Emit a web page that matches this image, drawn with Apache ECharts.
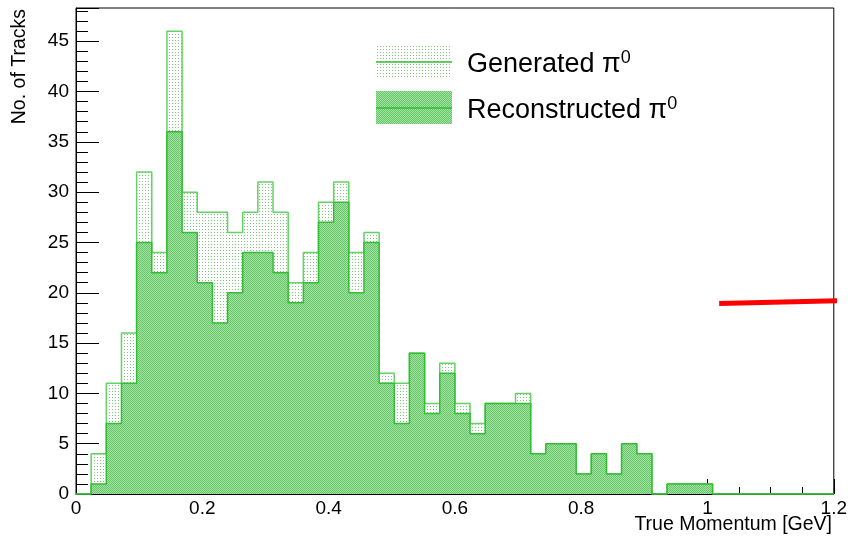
<!DOCTYPE html>
<html>
<head>
<meta charset="utf-8">
<title>True momentum of pi0 tracks</title>
<script src="https://cdn.jsdelivr.net/npm/echarts@6/dist/echarts.min.js"></script>
<style>
  html, body { margin: 0; padding: 0; background: #ffffff; }
  #chart { width: 850px; height: 538px; }
</style>
</head>
<body>
<div id="chart"></div>
<script>
// Histogram binning: 50 bins from 0 to 1.2 GeV
const xMin = 0;
const xMax = 1.2;
const nBins = 50;

// Counts per bin
const generatedCounts = [
  0, 4, 11, 16, 32, 24, 46, 30, 28, 28,
  26, 28, 31, 28, 21, 24, 29, 31, 24, 26,
  12, 11, 14, 9, 13, 9, 7, 9, 9, 10,
  4, 5, 5, 2, 4, 2, 5, 4, 0, 1,
  1, 1, 0, 0, 0, 0, 0, 0, 0, 0
];
const reconstructedCounts = [
  0, 1, 7, 11, 25, 22, 36, 26, 21, 17,
  20, 24, 24, 22, 19, 21, 27, 29, 20, 25,
  11, 7, 14, 8, 12, 8, 6, 9, 9, 9,
  4, 5, 5, 2, 4, 2, 5, 4, 0, 1,
  1, 1, 0, 0, 0, 0, 0, 0, 0, 0
];

// Red marker line (data coordinates)
const redLineX = [1.0185, 1.235];
const redLineY = [18.93, 19.25];

// Axis tick labels
const xTickLabels = ['0', '0.2', '0.4', '0.6', '0.8', '1', '1.2'];
const yTickLabels = ['0', '5', '10', '15', '20', '25', '30', '35', '40', '45'];

const yMax = 48.3;
const binWidth = (xMax - xMin) / nBins;

// Fill patterns drawn on tiny canvases
function makeDotPattern() {
  const c = document.createElement('canvas');
  c.width = 3; c.height = 3;
  const g = c.getContext('2d');
  g.fillStyle = '#ffffff'; g.fillRect(0, 0, 3, 3);
  g.fillStyle = 'rgb(125,200,125)'; g.fillRect(1, 1, 1, 1);
  return c;
}
function makeCheckerPattern() {
  const c = document.createElement('canvas');
  c.width = 2; c.height = 2;
  const g = c.getContext('2d');
  g.fillStyle = 'rgb(165,226,165)'; g.fillRect(0, 0, 2, 2);
  g.fillStyle = 'rgb(100,198,100)';
  g.fillRect(0, 0, 1, 1); g.fillRect(1, 1, 1, 1);
  return c;
}
const dotFill = { image: makeDotPattern(), repeat: 'repeat' };
const checkerFill = { image: makeCheckerPattern(), repeat: 'repeat' };

const genLineColor = 'rgb(100,210,100)';
const recoLineColor = 'rgb(50,190,50)';

// step contour along the bin edges, closed down to zero at both ends
function stepOutline(counts) {
  const pts = [[xMin, 0]];
  counts.forEach((v, i) => {
    pts.push([xMin + i * binWidth, v]);
    pts.push([xMin + (i + 1) * binWidth, v]);
  });
  pts.push([xMax, 0]);
  return pts;
}

const font = '"Liberation Sans", Arial, Helvetica, sans-serif';

const chart = echarts.init(document.getElementById('chart'), null, { renderer: 'canvas' });

const option = {
  animation: false,
  backgroundColor: '#ffffff',
  grid: {
    left: 76, top: 8, right: 15, bottom: 44,
    show: true, borderColor: '#000000', borderWidth: 1, backgroundColor: 'transparent'
  },
  xAxis: [{
    type: 'value', min: xMin, max: xMax, interval: 0.2,
    axisLine: { show: true, onZero: false, lineStyle: { color: '#000000', width: 1 } },
    axisTick: { show: true, inside: true, length: 15, lineStyle: { color: '#000000' } },
    minorTick: { show: true, splitNumber: 4, length: 7, lineStyle: { color: '#000000' } },
    splitLine: { show: false },
    axisLabel: {
      margin: 5, fontFamily: font, fontSize: 19, color: '#000000',
      showMinLabel: true, showMaxLabel: true,
      formatter: v => {
        const idx = Math.round(v / 0.2);
        return Math.abs(v - idx * 0.2) < 1e-6 ? (xTickLabels[idx] || '') : '';
      }
    }
  }],
  yAxis: [{
    type: 'value', min: 0, max: yMax, interval: 5,
    axisLine: { show: true, onZero: false, lineStyle: { color: '#000000', width: 1 } },
    axisTick: { show: true, inside: true, length: 23, lineStyle: { color: '#000000' } },
    splitLine: { show: false },
    axisLabel: {
      margin: 7, fontFamily: font, fontSize: 19, color: '#000000',
      formatter: v => {
        const idx = Math.round(v / 5);
        return Math.abs(v - idx * 5) < 1e-6 ? (yTickLabels[idx] || '') : '';
      }
    }
  }, {
    type: 'value', min: 0, max: yMax, interval: 1, position: 'left',
    axisLine: { show: false },
    axisTick: { show: true, inside: true, length: 12, lineStyle: { color: '#000000' } },
    splitLine: { show: false },
    axisLabel: { show: false }
  }],
  series: [
    {
      name: 'Generated', type: 'line', z: 2,
      showSymbol: false, symbol: 'none',
      lineStyle: { color: genLineColor, width: 1.5 },
      areaStyle: { color: dotFill, opacity: 1 },
      data: stepOutline(generatedCounts)
    },
    {
      name: 'Reconstructed', type: 'line', z: 3,
      showSymbol: false, symbol: 'none',
      lineStyle: { color: recoLineColor, width: 1.5 },
      areaStyle: { color: checkerFill, opacity: 1 },
      data: stepOutline(reconstructedCounts)
    },
    {
      name: 'Marker line', type: 'line', z: 1, clip: false,
      showSymbol: false, symbol: 'none',
      lineStyle: { color: '#ff0000', width: 5 },
      data: redLineX.map((x, i) => [x, redLineY[i]])
    }
  ],
  graphic: [
    // legend swatches
    { type: 'rect', left: 376, top: 45, shape: { width: 76, height: 33 }, style: { fill: dotFill } },
    { type: 'line', shape: { x1: 376, y1: 62, x2: 452, y2: 62 }, style: { stroke: recoLineColor, lineWidth: 1.5 } },
    { type: 'rect', left: 376, top: 91, shape: { width: 76, height: 33 }, style: { fill: checkerFill } },
    { type: 'line', shape: { x1: 376, y1: 108, x2: 452, y2: 108 }, style: { stroke: recoLineColor, lineWidth: 1.5 } },
    {
      type: 'text', left: 467, top: 49,
      style: {
        text: '{a|Generated π}{s|0}',
        rich: {
          a: { fontFamily: font, fontSize: 27, fill: '#000000', lineHeight: 32 },
          s: { fontFamily: font, fontSize: 18, fill: '#000000', lineHeight: 8, verticalAlign: 'top' }
        }
      }
    },
    {
      type: 'text', left: 467, top: 95,
      style: {
        text: '{a|Reconstructed π}{s|0}',
        rich: {
          a: { fontFamily: font, fontSize: 27, fill: '#000000', lineHeight: 32 },
          s: { fontFamily: font, fontSize: 18, fill: '#000000', lineHeight: 8, verticalAlign: 'top' }
        }
      }
    },
    // axis titles
    {
      type: 'text', x: 20, y: 9, rotation: Math.PI / 2,
      style: { text: 'No. of Tracks', fontFamily: font, fontSize: 19.5, fill: '#000000', align: 'right', verticalAlign: 'middle' }
    },
    {
      type: 'text', x: 832, y: 525,
      style: { text: 'True Momentum [GeV]', fontFamily: font, fontSize: 19.5, fill: '#000000', align: 'right', verticalAlign: 'middle' }
    }
  ]
};

chart.setOption(option);
</script>
</body>
</html>
